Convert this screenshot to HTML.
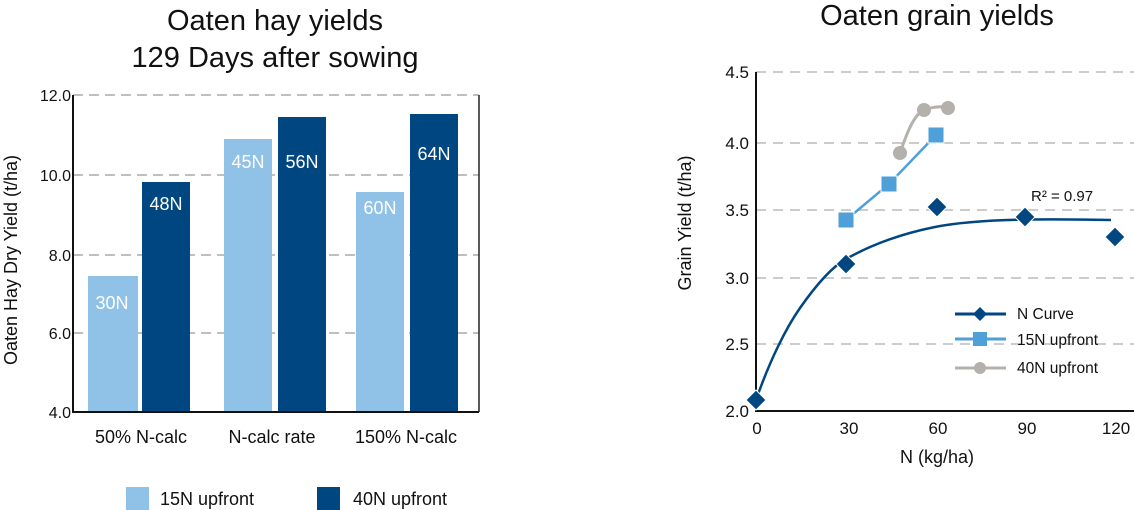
<!DOCTYPE html><html><head><style>body{margin:0;background:#fff}svg{display:block}text{font-family:"Liberation Sans",sans-serif;fill:#111}</style></head><body>
<svg width="1134" height="510" viewBox="0 0 1134 510">
<text x="275" y="30" font-size="29" text-anchor="middle">Oaten hay yields</text>
<text x="275" y="67" font-size="29" text-anchor="middle">129 Days after sowing</text>
<g stroke="#aaa" stroke-width="1.5" stroke-dasharray="10,6"><line x1="73" y1="95" x2="479" y2="95"/><line x1="73" y1="175" x2="479" y2="175"/><line x1="73" y1="255" x2="479" y2="255"/><line x1="73" y1="333" x2="479" y2="333"/></g>
<line x1="479" y1="95" x2="479" y2="412" stroke="#222" stroke-width="1.5"/>
<g fill="#90c2e8"><rect x="88" y="276" width="50" height="136"/><rect x="224" y="139" width="48" height="273"/><rect x="356" y="192" width="48" height="220"/></g>
<g fill="#004680"><rect x="142" y="182" width="48" height="230"/><rect x="278" y="117" width="48" height="295"/><rect x="410" y="114" width="48" height="298"/></g>
<line x1="73" y1="95" x2="73" y2="413" stroke="#111" stroke-width="2"/><line x1="72" y1="412" x2="479" y2="412" stroke="#111" stroke-width="2"/>
<g font-size="18" text-anchor="middle"><text x="112" y="309" style="fill:#fff">30N</text><text x="166" y="210" style="fill:#fff">48N</text><text x="248" y="168" style="fill:#fff">45N</text><text x="302" y="168" style="fill:#fff">56N</text><text x="380" y="214" style="fill:#fff">60N</text><text x="434" y="160" style="fill:#fff">64N</text></g>
<g font-size="16" text-anchor="end"><text x="71" y="101">12.0</text><text x="71" y="181">10.0</text><text x="71" y="261">8.0</text><text x="71" y="339">6.0</text><text x="71" y="418">4.0</text></g>
<text transform="translate(17,260) rotate(-90)" font-size="18" text-anchor="middle">Oaten Hay Dry Yield (t/ha)</text>
<g font-size="18" text-anchor="middle"><text x="141" y="443">50% N-calc</text><text x="272" y="443">N-calc rate</text><text x="406" y="443">150% N-calc</text></g>
<rect x="126" y="487" width="23" height="23" fill="#90c2e8"/><text x="160" y="505" font-size="18">15N upfront</text>
<rect x="317" y="487" width="23" height="23" fill="#004680"/><text x="353" y="505" font-size="18">40N upfront</text>

<text x="937" y="25" font-size="29" text-anchor="middle">Oaten grain yields</text>
<g stroke="#bbb" stroke-width="1.5" stroke-dasharray="10,7"><line x1="756" y1="72" x2="1134" y2="72"/><line x1="756" y1="143" x2="1134" y2="143"/><line x1="756" y1="210" x2="1134" y2="210"/><line x1="756" y1="278" x2="1134" y2="278"/><line x1="756" y1="344" x2="1134" y2="344"/></g>
<line x1="756" y1="72" x2="756" y2="412" stroke="#111" stroke-width="2"/><line x1="755" y1="411" x2="1134" y2="411" stroke="#111" stroke-width="2"/>
<g font-size="17" text-anchor="end"><text x="749" y="78">4.5</text><text x="749" y="149">4.0</text><text x="749" y="216">3.5</text><text x="749" y="284">3.0</text><text x="749" y="350">2.5</text><text x="749" y="417">2.0</text></g>
<g font-size="17" text-anchor="middle"><text x="757" y="434">0</text><text x="849" y="434">30</text><text x="938" y="434">60</text><text x="1027" y="434">90</text><text x="1116" y="434">120</text></g>
<text x="937" y="463" font-size="18" text-anchor="middle">N (kg/ha)</text>
<text transform="translate(691,223) rotate(-90)" font-size="18" text-anchor="middle">Grain Yield (t/ha)</text>
<path d="M756,400 C770,360 786,328 800,308 S830,268 846,259 S890,236 935,227 S1050,219 1111,220" fill="none" stroke="#004680" stroke-width="2.5"/>
<path d="M900,153 C908,130 914,115 924,110 C935,106 942,106 948,108" fill="none" stroke="#b4b1ad" stroke-width="3"/>
<polyline points="846,220 889,184 936,135" fill="none" stroke="#4f9fd8" stroke-width="2.5"/>
<g fill="#b4b1ad"><circle cx="900" cy="153" r="7"/><circle cx="924" cy="110" r="7"/><circle cx="948" cy="108" r="7"/></g>
<g fill="#4f9fd8" stroke="#fff" stroke-width="1"><rect x="838" y="212" width="16" height="16"/><rect x="881" y="176" width="16" height="16"/><rect x="928" y="127" width="16" height="16"/></g>
<g fill="#004680" stroke="#fff" stroke-width="1"><path d="M756,390 l10,10 -10,10 -10,-10z"/><path d="M846,254 l10,10 -10,10 -10,-10z"/><path d="M937,197 l10,10 -10,10 -10,-10z"/><path d="M1025,207 l10,10 -10,10 -10,-10z"/><path d="M1115,227 l10,10 -10,10 -10,-10z"/></g>
<text x="1031" y="201" font-size="15">R² = 0.97</text>
<line x1="955" y1="314" x2="1006" y2="314" stroke="#004680" stroke-width="3"/><path d="M980,307 l7,7 -7,7 -7,-7z" fill="#004680"/>
<line x1="955" y1="339" x2="1006" y2="339" stroke="#4f9fd8" stroke-width="3"/><rect x="973" y="332" width="14" height="14" fill="#4f9fd8"/>
<line x1="955" y1="368" x2="1006" y2="368" stroke="#b4b1ad" stroke-width="3"/><circle cx="980" cy="368" r="6" fill="#b4b1ad"/>
<g font-size="15.5"><text x="1017" y="319">N Curve</text><text x="1017" y="345">15N upfront</text><text x="1017" y="373">40N upfront</text></g>
</svg></body></html>
